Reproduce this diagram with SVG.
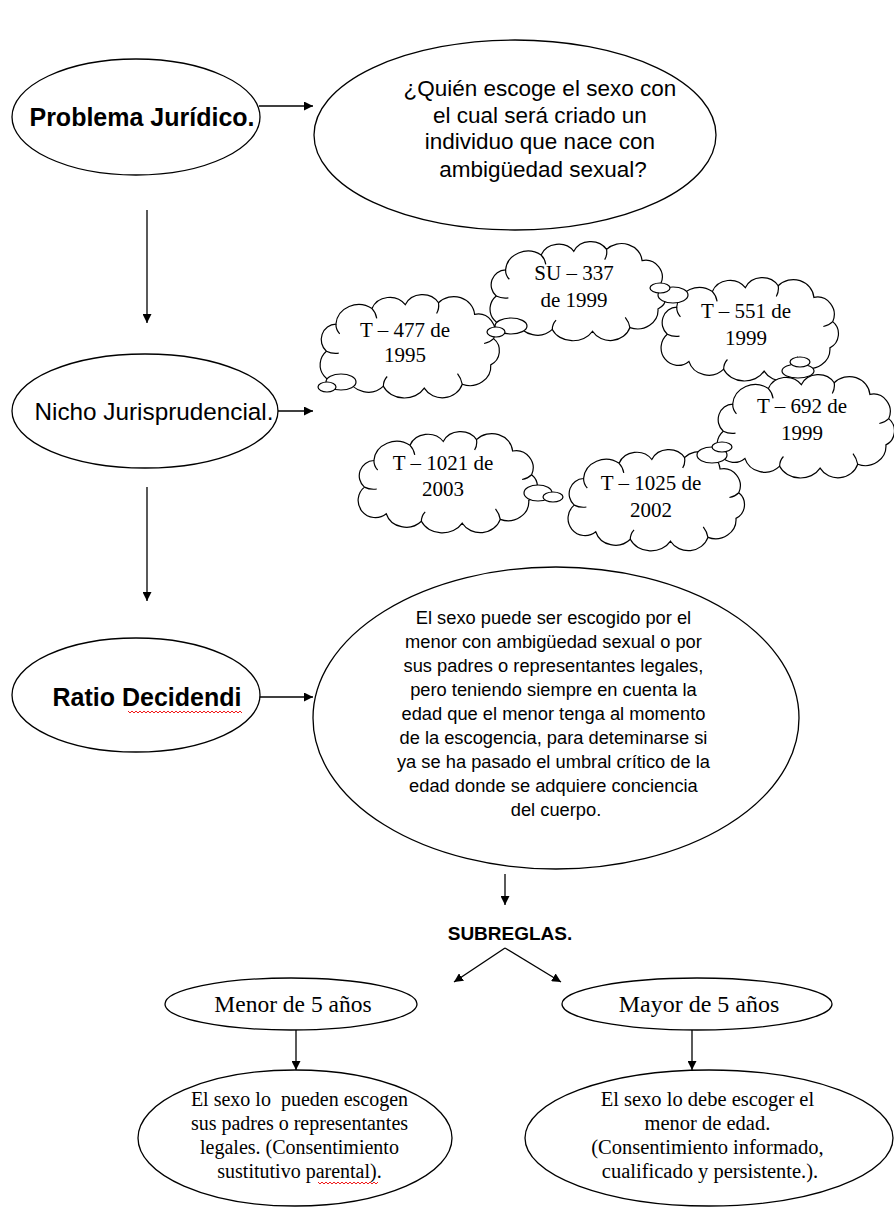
<svg xmlns="http://www.w3.org/2000/svg" xmlns:xlink="http://www.w3.org/1999/xlink" width="894" height="1211" viewBox="0 0 894 1211">
<style>
.node{fill:#fff;stroke:#000;stroke-width:1.3}
.sans{font-family:"Liberation Sans",Arial,sans-serif;fill:#000}
.serif{font-family:"Liberation Serif","Times New Roman",serif;fill:#000}
.conn line{stroke:#000;stroke-width:1.3}
.bub{fill:#fff;stroke:#000;stroke-width:1.2}
.sq{fill:none;stroke:#e00;stroke-width:0.9}
</style>
<defs>
<marker id="ah" viewBox="0 0 10 10" refX="10" refY="5" markerWidth="9" markerHeight="9" markerUnits="userSpaceOnUse" orient="auto">
<path d="M0 0 L10 5 L0 10 Z" fill="#000"/>
</marker>
<symbol id="cloud" viewBox="0 0 200 100" preserveAspectRatio="none" overflow="visible">
<path vector-effect="non-scaling-stroke" fill="#fff" stroke="#000" stroke-width="1.2" d="M 12 58 A 16 16 0 0 1 22 30 A 24 22 0 0 1 60 14 A 20 18 0 0 1 95 10 A 20 18 0 0 1 130 8 A 22 20 0 0 1 168 20 A 18 18 0 0 1 188 45 A 16 16 0 0 1 185 72 A 22 20 0 0 1 155 92 A 22 20 0 0 1 115 96 A 24 20 0 0 1 72 94 A 22 20 0 0 1 35 86 A 16 16 0 0 1 12 58 Z"/>
<path vector-effect="non-scaling-stroke" fill="none" stroke="#000" stroke-width="1.2" d="M 22 30 Q 22 36 26 40 M 60 14 Q 64 18 65 24 M 130 8 Q 131 14 128 19 M 188 45 Q 184 49 178 50 M 155 92 Q 154 86 150 81 M 72 94 Q 72 88 76 84 M 12 58 Q 18 61 25 60"/>
</symbol>
</defs>
<rect width="894" height="1211" fill="#fff"/>

<g id="connectors" class="conn">
<line x1="259" y1="106" x2="313" y2="106" marker-end="url(#ah)"/>
<line x1="147" y1="210" x2="147" y2="323" marker-end="url(#ah)"/>
<line x1="277" y1="411" x2="313" y2="411" marker-end="url(#ah)"/>
<line x1="147" y1="487" x2="147" y2="601" marker-end="url(#ah)"/>
<line x1="259" y1="697" x2="313" y2="697" marker-end="url(#ah)"/>
<line x1="505" y1="874" x2="505" y2="905" marker-end="url(#ah)"/>
<line x1="505" y1="948" x2="454" y2="982" marker-end="url(#ah)"/>
<line x1="505" y1="948" x2="561" y2="982" marker-end="url(#ah)"/>
<line x1="296" y1="1030" x2="296" y2="1070" marker-end="url(#ah)"/>
<line x1="692" y1="1030" x2="692" y2="1070" marker-end="url(#ah)"/>
</g>

<g id="problema">
<ellipse class="node" cx="136" cy="117" rx="124" ry="58"/>
<text class="sans" x="142" y="126" font-size="25" font-weight="bold" text-anchor="middle">Problema Jurídico.</text>
</g>

<g id="pregunta">
<ellipse class="node" cx="515" cy="135" rx="201" ry="95"/>
<text class="sans" font-size="22.5" text-anchor="middle">
<tspan x="543" y="96">¿Quién escoge el sexo con</tspan>
<tspan x="543" y="123">el cual será criado un</tspan>
<tspan x="543" y="149">individuo que nace con</tspan>
<tspan x="543" y="177">ambigüedad sexual?</tspan>
</text>
</g>

<g id="nicho">
<ellipse class="node" cx="145" cy="411" rx="133" ry="57"/>
<text class="sans" x="154" y="420" font-size="24.3" text-anchor="middle">Nicho Jurisprudencial.</text>
</g>

<g id="cloudA"><use xlink:href="#cloud" href="#cloud" x="315" y="295" width="190" height="97"/>
<text class="serif" font-size="21" text-anchor="middle"><tspan x="405" y="337">T – 477 de</tspan><tspan x="405" y="362">1995</tspan></text></g>
<g id="cloudB"><use xlink:href="#cloud" href="#cloud" x="485" y="242" width="187" height="93"/>
<text class="serif" font-size="21" text-anchor="middle"><tspan x="574" y="280">SU – 337</tspan><tspan x="574" y="307">de 1999</tspan></text></g>
<g id="cloudC"><use xlink:href="#cloud" href="#cloud" x="656" y="278" width="188" height="97"/>
<text class="serif" font-size="21" text-anchor="middle"><tspan x="746" y="318">T – 551 de</tspan><tspan x="746" y="345">1999</tspan></text></g>
<g id="cloudD"><use xlink:href="#cloud" href="#cloud" x="712" y="375" width="188" height="97"/>
<text class="serif" font-size="21" text-anchor="middle"><tspan x="802" y="413">T – 692 de</tspan><tspan x="802" y="440">1999</tspan></text></g>
<g id="cloudE"><use xlink:href="#cloud" href="#cloud" x="563" y="450" width="187" height="95"/>
<text class="serif" font-size="21" text-anchor="middle"><tspan x="651" y="490">T – 1025 de</tspan><tspan x="651" y="517">2002</tspan></text></g>
<g id="cloudF"><use xlink:href="#cloud" href="#cloud" x="353" y="432" width="190" height="95"/>
<text class="serif" font-size="21" text-anchor="middle"><tspan x="443" y="470">T – 1021 de</tspan><tspan x="443" y="496">2003</tspan></text></g>

<g id="bubbles">
<ellipse class="bub" cx="341" cy="382" rx="15" ry="8"/>
<ellipse class="bub" cx="327" cy="387" rx="9" ry="5"/>
<ellipse class="bub" cx="511" cy="326" rx="16" ry="8"/>
<ellipse class="bub" cx="496" cy="332" rx="9" ry="5"/>
<ellipse class="bub" cx="673" cy="295" rx="15" ry="8"/>
<ellipse class="bub" cx="660" cy="288" rx="10" ry="5"/>
<ellipse class="bub" cx="798" cy="371" rx="16" ry="7"/>
<ellipse class="bub" cx="800" cy="362" rx="10" ry="5"/>
<ellipse class="bub" cx="712" cy="455" rx="15" ry="8"/>
<ellipse class="bub" cx="722" cy="447" rx="10" ry="5"/>
<ellipse class="bub" cx="538" cy="493" rx="14" ry="8"/>
<ellipse class="bub" cx="553" cy="497" rx="10" ry="5"/>
</g>

<g id="ratio">
<ellipse class="node" cx="136" cy="695" rx="124" ry="57"/>
<text class="sans" x="147" y="706" font-size="25" font-weight="bold" text-anchor="middle">Ratio Decidendi</text>
<path class="sq" d="M128 711 l2 2 l2 -2 l2 2 l2 -2 l2 2 l2 -2 l2 2 l2 -2 l2 2 l2 -2 l2 2 l2 -2 l2 2 l2 -2 l2 2 l2 -2 l2 2 l2 -2 l2 2 l2 -2 l2 2 l2 -2 l2 2 l2 -2 l2 2 l2 -2 l2 2 l2 -2 l2 2 l2 -2 l2 2 l2 -2 l2 2 l2 -2 l2 2 l2 -2 l2 2 l2 -2 l2 2 l2 -2 l2 2 l2 -2 l2 2 l2 -2 l2 2 l2 -2 l2 2 l2 -2 l2 2 l2 -2 l2 2 l2 -2 l2 2 l2 -2 l2 2 l2 -2 l2 2"/>
</g>

<g id="regla">
<ellipse class="node" cx="556" cy="718" rx="243" ry="151"/>
<text class="sans" font-size="18.3" text-anchor="middle">
<tspan x="556" y="624">El sexo puede ser escogido por el</tspan>
<tspan x="556" y="648">menor con ambigüedad sexual o por</tspan>
<tspan x="556" y="672">sus padres o representantes legales,</tspan>
<tspan x="556" y="696">pero teniendo siempre en cuenta la</tspan>
<tspan x="556" y="720">edad que el menor tenga al momento</tspan>
<tspan x="556" y="744">de la escogencia, para deteminarse si</tspan>
<tspan x="556" y="768">ya se ha pasado el umbral crítico de la</tspan>
<tspan x="556" y="792">edad donde se adquiere conciencia</tspan>
<tspan x="556" y="816">del cuerpo.</tspan>
</text>
</g>

<g id="subreglas">
<text class="sans" x="510" y="940" font-size="19" font-weight="bold" text-anchor="middle">SUBREGLAS.</text>
</g>

<g id="menor">
<ellipse class="node" cx="291" cy="1004" rx="126" ry="26"/>
<text class="serif" x="293" y="1012" font-size="23.5" text-anchor="middle">Menor de 5 años</text>
</g>

<g id="mayor">
<ellipse class="node" cx="697" cy="1004" rx="135" ry="26"/>
<text class="serif" x="699" y="1012" font-size="24" text-anchor="middle">Mayor de 5 años</text>
</g>

<g id="padres">
<ellipse class="node" cx="295" cy="1138" rx="157" ry="68"/>
<text class="serif" font-size="20" text-anchor="middle" xml:space="preserve">
<tspan x="302" y="1106">El sexo lo  pueden escogen</tspan>
<tspan x="302" y="1130">sus padres o representantes</tspan>
<tspan x="302" y="1154">legales. (Consentimiento</tspan>
<tspan x="302" y="1178">sustitutivo parental).</tspan>
</text>
<path class="sq" d="M318 1182 l2 2 l2 -2 l2 2 l2 -2 l2 2 l2 -2 l2 2 l2 -2 l2 2 l2 -2 l2 2 l2 -2 l2 2 l2 -2 l2 2 l2 -2 l2 2 l2 -2 l2 2 l2 -2 l2 2 l2 -2 l2 2 l2 -2 l2 2 l2 -2 l2 2 l2 -2 l2 2 l2 -2"/>
</g>

<g id="menorEdad">
<ellipse class="node" cx="709" cy="1138" rx="184" ry="68"/>
<text class="serif" font-size="20.5" text-anchor="middle">
<tspan x="710" y="1106">El sexo lo debe escoger el</tspan>
<tspan x="710" y="1130">menor de edad.</tspan>
<tspan x="710" y="1154">(Consentimiento informado,</tspan>
<tspan x="710" y="1178">cualificado y persistente.).</tspan>
</text>
</g>
</svg>
